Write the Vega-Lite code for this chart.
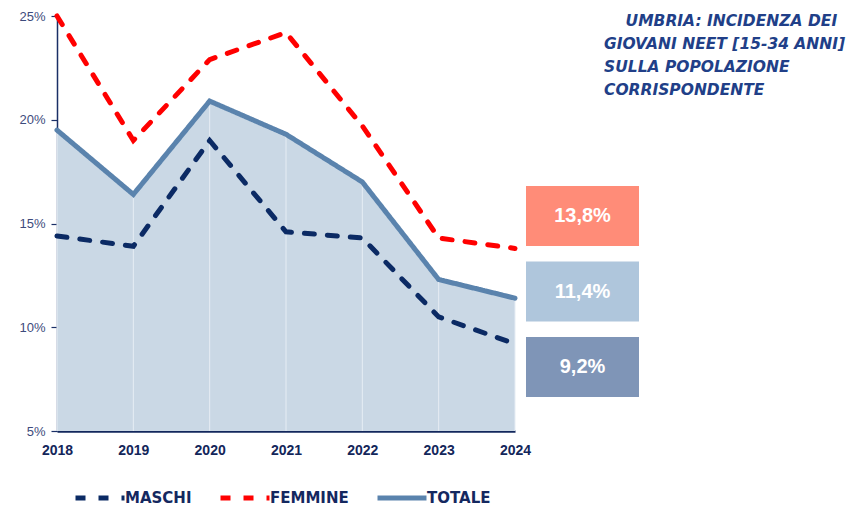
{
  "$schema": "https://vega.github.io/schema/vega-lite/v6.json",
  "background": "white",
  "padding": {"left": 18, "top": 6, "right": 5, "bottom": 5},
  "bounds": "flush",
  "spacing": 11,
  "config": {
    "view": {"stroke": null},
    "font": "Liberation Sans"
  },
  "data": {
    "values": [
      {"year": 2018, "serie": "MASCHI", "value": 14.4},
      {"year": 2019, "serie": "MASCHI", "value": 13.9},
      {"year": 2020, "serie": "MASCHI", "value": 19.0},
      {"year": 2021, "serie": "MASCHI", "value": 14.6},
      {"year": 2022, "serie": "MASCHI", "value": 14.3},
      {"year": 2023, "serie": "MASCHI", "value": 10.5},
      {"year": 2024, "serie": "MASCHI", "value": 9.2},
      {"year": 2018, "serie": "FEMMINE", "value": 25.0},
      {"year": 2019, "serie": "FEMMINE", "value": 19.0},
      {"year": 2020, "serie": "FEMMINE", "value": 22.9},
      {"year": 2021, "serie": "FEMMINE", "value": 24.2},
      {"year": 2022, "serie": "FEMMINE", "value": 19.7},
      {"year": 2023, "serie": "FEMMINE", "value": 14.3},
      {"year": 2024, "serie": "FEMMINE", "value": 13.8},
      {"year": 2018, "serie": "TOTALE", "value": 19.5},
      {"year": 2019, "serie": "TOTALE", "value": 16.4},
      {"year": 2020, "serie": "TOTALE", "value": 20.9},
      {"year": 2021, "serie": "TOTALE", "value": 19.3},
      {"year": 2022, "serie": "TOTALE", "value": 17.0},
      {"year": 2023, "serie": "TOTALE", "value": 12.3},
      {"year": 2024, "serie": "TOTALE", "value": 11.4}
    ]
  },
  "resolve": {"scale": {"x": "independent", "y": "independent", "color": "independent", "strokeDash": "independent"}},
  "hconcat": [
    {
      "width": 458,
      "height": 415,
      "encoding": {
        "x": {
          "field": "year", "type": "ordinal",
          "scale": {"type": "point", "padding": 0},
          "axis": {
            "title": null, "labelAngle": 0, "ticks": false, "grid": false,
            "domainColor": "#12275c", "domainWidth": 2.5,
            "labelFont": "Liberation Sans", "labelFontWeight": "bold", "labelFontSize": 14,
            "labelColor": "#13265a", "labelPadding": 12
          }
        },
        "y": {
          "field": "value", "type": "quantitative",
          "scale": {"domain": [5, 25], "zero": false, "nice": false},
          "axis": {
            "title": null, "values": [5, 10, 15, 20, 25], "grid": false,
            "labelExpr": "datum.value + '%'",
            "domainColor": "#1a2f66", "domainWidth": 1.5,
            "tickColor": "#1a2f66", "tickSize": 6, "tickWidth": 1.2,
            "labelColor": "#3d4b7c", "labelFontSize": 13, "labelPadding": 6
          }
        }
      },
      "layer": [
        {
          "transform": [{"filter": "datum.serie === 'TOTALE'"}],
          "mark": {"type": "area", "color": "#cad8e5"},
          "encoding": {"y2": {"datum": 5}}
        },
        {
          "transform": [{"filter": "datum.serie === 'TOTALE'"}],
          "mark": {"type": "rule", "color": "#e6edf4", "strokeWidth": 1},
          "encoding": {"y2": {"datum": 5}}
        },
        {
          "mark": {"type": "line", "strokeWidth": 5, "strokeCap": "round", "strokeJoin": "miter"},
          "encoding": {
            "color": {
              "field": "serie", "type": "nominal",
              "scale": {"domain": ["MASCHI", "FEMMINE", "TOTALE"], "range": ["#0b2a64", "#ff0000", "#5a83ad"]},
              "legend": {
                "title": null, "orient": "none", "legendX": 16, "legendY": 455, "direction": "horizontal",
                "gridAlign": "none",
                "symbolType": "stroke", "symbolStrokeWidth": 5, "symbolSize": 2400,
                "labelFont": "DejaVu Sans", "labelFontWeight": "bold", "labelFontSize": 15,
                "labelColor": "#14285f", "labelOffset": -2, "columnPadding": 18
              }
            },
            "strokeDash": {
              "field": "serie", "type": "nominal",
              "scale": {"domain": ["MASCHI", "FEMMINE", "TOTALE"], "range": [[10, 13], [10, 13], [1, 0]]},
              "legend": {"title": null, "orient": "none", "legendX": 16, "legendY": 455, "direction": "horizontal"}
            },
            "order": {"field": "serie", "sort": "descending"}
          }
        }
      ]
    },
    {
      "width": 113,
      "height": 415,
      "title": {
        "text": ["\u200b\u00a0\u00a0\u00a0\u00a0UMBRIA: INCIDENZA DEI", "GIOVANI NEET [15-34 ANNI]", "SULLA POPOLAZIONE", "CORRISPONDENTE"],
        "anchor": "start", "frame": "group", "dx": 78, "dy": 86,
        "font": "DejaVu Sans", "fontSize": 15.5, "fontStyle": "italic", "fontWeight": "bold", "color": "#213f88",
        "lineHeight": 23
      },
      "transform": [
        {"filter": "datum.year === 2024"},
        {"calculate": "replace(format(datum.value, '.1f'), '.', ',') + '%'", "as": "label"}
      ],
      "encoding": {
        "y": {
          "field": "serie", "type": "nominal",
          "scale": {"domain": ["FEMMINE", "TOTALE", "MASCHI"], "range": [170, 381], "paddingInner": 0.205, "paddingOuter": 0},
          "axis": null
        }
      },
      "layer": [
        {
          "mark": {"type": "rect"},
          "encoding": {
            "fill": {
              "field": "serie", "type": "nominal",
              "scale": {"domain": ["FEMMINE", "TOTALE", "MASCHI"], "range": ["#ff8c78", "#afc6dc", "#7f95b7"]},
              "legend": null
            }
          }
        },
        {
          "mark": {"type": "text", "color": "white", "fontSize": 20, "fontWeight": "bold"},
          "encoding": {"text": {"field": "label"}}
        }
      ]
    }
  ]
}
